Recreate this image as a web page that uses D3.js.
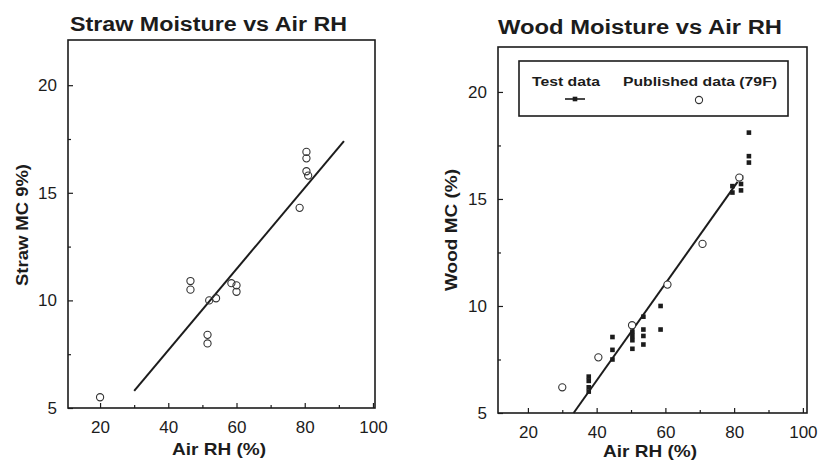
<!DOCTYPE html>
<html><head><meta charset="utf-8">
<script src="https://cdn.jsdelivr.net/npm/d3@7"></script>
<style>
body{margin:0;background:#fff;}
svg{display:block;font-family:"Liberation Sans",Arial,sans-serif;}
</style></head>
<body><svg id="c" width="820" height="468"></svg>
<script>
// ---- data ----
const xTicks = [20, 40, 60, 80, 100];
const xMinor = [30, 50, 70, 90];
const yTicks = [5, 10, 15, 20];
const yMinor = [7.5, 12.5, 17.5];

const strawRH = [20, 46.5, 46.5, 51.5, 51.5, 52, 54, 58.5, 60, 60, 78.5, 80.5, 80.5, 80.5, 81];
const strawMC = [5.5, 10.9, 10.5, 8.4, 8.0, 10.0, 10.1, 10.8, 10.7, 10.4, 14.3, 16.9, 16.6, 16.0, 15.8];
const strawFitRH = [30, 91.5];
const strawFitMC = [5.8, 17.4];

const woodTestRH = [37.7, 37.7, 37.7, 37.7, 44.6, 44.6, 44.6, 50.4, 50.4, 50.4, 50.4, 53.6, 53.6, 53.6, 53.6, 58.6, 58.6, 79.5, 79.5, 82, 82, 82, 84.3, 84.3, 84.3];
const woodTestMC = [6.7, 6.5, 6.2, 6.0, 8.55, 7.95, 7.5, 8.8, 8.6, 8.4, 8.0, 9.5, 8.9, 8.6, 8.2, 10.0, 8.9, 15.6, 15.3, 16.0, 15.7, 15.4, 18.1, 17.0, 16.7];
const woodPubRH = [30, 40.5, 50.3, 60.6, 70.8, 81.5];
const woodPubMC = [6.2, 7.6, 9.1, 11.0, 12.9, 16.0];
const woodFitRH = [33.3, 81];
const woodFitMC = [5.0, 15.8];

const legendLabels = ["Test data", "Published data (79F)"];

// ---- drawing ----
const svg = d3.select("#c");
const ink = "#1c1c1c";

function panel(o) {
  const x = d3.scaleLinear().domain(o.xd).range([o.l, o.r]);
  const y = d3.scaleLinear().domain(o.yd).range([o.b, o.t]);
  const g = svg.append("g");

  // title
  g.append("text").attr("x", (o.titleX0 + o.titleX1) / 2).attr("y", o.titleY)
    .attr("text-anchor", "middle").attr("font-weight", "bold").attr("font-size", 20)
    .attr("fill", ink).attr("textLength", o.titleX1 - o.titleX0).attr("lengthAdjust", "spacingAndGlyphs")
    .text(o.title);

  // axes (ticks inward)
  const gx = g.append("g").attr("transform", `translate(0,${o.b})`)
    .call(d3.axisBottom(x).tickValues(xTicks).tickSize(-5).tickPadding(13).tickFormat(d3.format("d")));
  const gxm = g.append("g").attr("transform", `translate(0,${o.b})`)
    .call(d3.axisBottom(x).tickValues(xMinor).tickSize(-3).tickFormat(""));
  const gy = g.append("g").attr("transform", `translate(${o.l},0)`)
    .call(d3.axisLeft(y).tickValues(yTicks).tickSize(-5).tickPadding(11).tickFormat(d3.format("d")));
  const gym = g.append("g").attr("transform", `translate(${o.l},0)`)
    .call(d3.axisLeft(y).tickValues(yMinor).tickSize(-3).tickFormat(""));
  [gx, gxm, gy, gym].forEach(a => {
    a.select(".domain").remove();
    a.selectAll("line").attr("stroke", ink).attr("stroke-width", 1.2);
    a.selectAll("text").attr("font-size", 17).attr("fill", ink);
  });

  // frame
  g.append("rect").attr("x", o.l).attr("y", o.t).attr("width", o.r - o.l).attr("height", o.b - o.t)
    .attr("fill", "none").attr("stroke", ink).attr("stroke-width", 1.6);

  // axis labels
  g.append("text").attr("x", o.xlabX).attr("y", o.xlabY).attr("text-anchor", "middle")
    .attr("font-weight", "bold").attr("font-size", 17).attr("fill", ink)
    .attr("textLength", 94).attr("lengthAdjust", "spacingAndGlyphs").text("Air RH (%)");
  g.append("text").attr("transform", `translate(${o.ylabX},${o.ylabY}) rotate(-90)`)
    .attr("text-anchor", "middle").attr("font-weight", "bold").attr("font-size", 16).attr("fill", ink)
    .attr("textLength", 122).attr("lengthAdjust", "spacingAndGlyphs").text(o.ylab);

  return {g, x, y};
}

// Straw panel
const L = panel({xd: [10.6, 100.6], yd: [5, 22.1], l: 68, r: 375, t: 40, b: 408,
  title: "Straw Moisture vs Air RH", titleX0: 70, titleX1: 347, titleY: 31,
  xlabX: 219, xlabY: 455, ylabX: 28, ylabY: 225, ylab: "Straw MC 9%)"});

L.g.append("path").datum(d3.zip(strawFitRH, strawFitMC))
  .attr("d", d3.line().x(d => L.x(d[0])).y(d => L.y(d[1])))
  .attr("stroke", ink).attr("stroke-width", 2).attr("fill", "none");
L.g.selectAll("circle.s").data(d3.zip(strawRH, strawMC)).join("circle").attr("class", "s")
  .attr("cx", d => L.x(d[0])).attr("cy", d => L.y(d[1])).attr("r", 3.6)
  .attr("fill", "none").attr("stroke", "#333").attr("stroke-width", 1.1);

// Wood panel
const R = panel({xd: [11.3, 101.2], yd: [5, 22.1], l: 498, r: 807, t: 47, b: 413,
  title: "Wood Moisture vs Air RH", titleX0: 498, titleX1: 782, titleY: 34,
  xlabX: 650, xlabY: 457, ylabX: 457, ylabY: 230, ylab: "Wood MC (%)"});

R.g.append("path").datum(d3.zip(woodFitRH, woodFitMC))
  .attr("d", d3.line().x(d => R.x(d[0])).y(d => R.y(d[1])))
  .attr("stroke", ink).attr("stroke-width", 2).attr("fill", "none");
R.g.selectAll("rect.t").data(d3.zip(woodTestRH, woodTestMC)).join("rect").attr("class", "t")
  .attr("x", d => R.x(d[0]) - 2.3).attr("y", d => R.y(d[1]) - 2.3)
  .attr("width", 4.6).attr("height", 4.6).attr("fill", ink);
R.g.selectAll("circle.p").data(d3.zip(woodPubRH, woodPubMC)).join("circle").attr("class", "p")
  .attr("cx", d => R.x(d[0])).attr("cy", d => R.y(d[1])).attr("r", 3.6)
  .attr("fill", "#fff").attr("stroke", "#333").attr("stroke-width", 1.1);

// legend
const lg = R.g.append("g");
lg.append("rect").attr("x", 519).attr("y", 61).attr("width", 269).attr("height", 55)
  .attr("fill", "#fff").attr("stroke", ink).attr("stroke-width", 1.6);
lg.append("text").attr("x", 566).attr("y", 86).attr("text-anchor", "middle")
  .attr("font-weight", "bold").attr("font-size", 13).attr("fill", ink)
  .attr("textLength", 68).attr("lengthAdjust", "spacingAndGlyphs").text(legendLabels[0]);
lg.append("text").attr("x", 700).attr("y", 86).attr("text-anchor", "middle")
  .attr("font-weight", "bold").attr("font-size", 13).attr("fill", ink)
  .attr("textLength", 154).attr("lengthAdjust", "spacingAndGlyphs").text(legendLabels[1]);
lg.append("line").attr("x1", 565).attr("x2", 585).attr("y1", 99).attr("y2", 99)
  .attr("stroke", ink).attr("stroke-width", 1.6);
lg.append("rect").attr("x", 572.7).attr("y", 96.7).attr("width", 4.6).attr("height", 4.6).attr("fill", ink);
lg.append("circle").attr("cx", 699).attr("cy", 100).attr("r", 3.6)
  .attr("fill", "none").attr("stroke", "#333").attr("stroke-width", 1.1);
</script></body></html>
